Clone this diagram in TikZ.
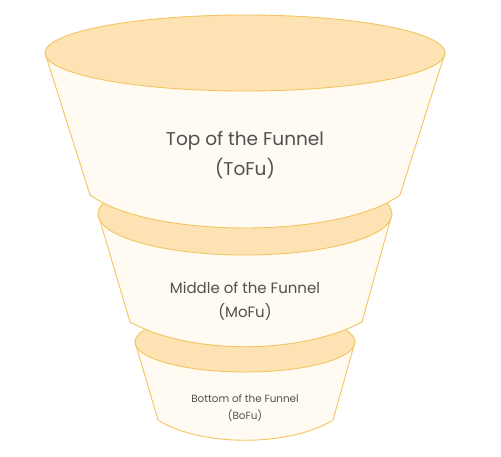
\documentclass[tikz,border=0pt]{standalone}
\usepackage{fontspec}
\setmainfont{Poppins}
\usepackage{xcolor}
\usepackage{tikz}
\definecolor{rimFill}{HTML}{FDE3B3}
\definecolor{bodyFill}{HTML}{FFFAF2}
\definecolor{edgeLine}{HTML}{F3C460}
\definecolor{labelText}{HTML}{505050}
\tikzset{
	tier/.style = {draw = edgeLine, fill = bodyFill, line width = 0.9pt, line join = round},
	rim/.style = {draw = edgeLine, fill = rimFill, line width = 0.9pt},
	label/.style = {text = labelText, align = center}
}

\begin{document}
\begin{tikzpicture}[x = 1pt, y = -1pt]
	\useasboundingbox (0,0) rectangle (501,457);
	\def\midX{245};

	% bottom of the funnel
	\draw[tier] (135,342) -- (158,420) .. controls (200,447) and (290,447) .. (333,420) -- (355,342) -- cycle;
	\draw[rim] (\midX,342) ellipse [x radius = 110, y radius = 30];

	% middle of the funnel
	\draw[tier] (98,214) -- (130,322) .. controls (190,355) and (300,355) .. (362,322) -- (392,214) -- cycle;
	\draw[rim] (\midX,214) ellipse [x radius = 147, y radius = 41];

	% top of the funnel
	\draw[tier] (45,53) -- (90,195) .. controls (150,239) and (340,239) .. (400,195) -- (445,53) -- cycle;
	\draw[rim] (\midX,53) ellipse [x radius = 200, y radius = 38];

	\node[label, font = \fontsize{18.5}{30}\selectfont] (tofu) at (\midX,155) {Top of the Funnel\\(ToFu)};
	\node[label, font = \fontsize{15}{24}\selectfont] (mofu) at (\midX,301) {Middle of the Funnel\\(MoFu)};
	\node[label, font = \fontsize{10.4}{17}\selectfont] (bofu) at (\midX,408) {Bottom of the Funnel\\(BoFu)};
\end{tikzpicture}
\end{document}
